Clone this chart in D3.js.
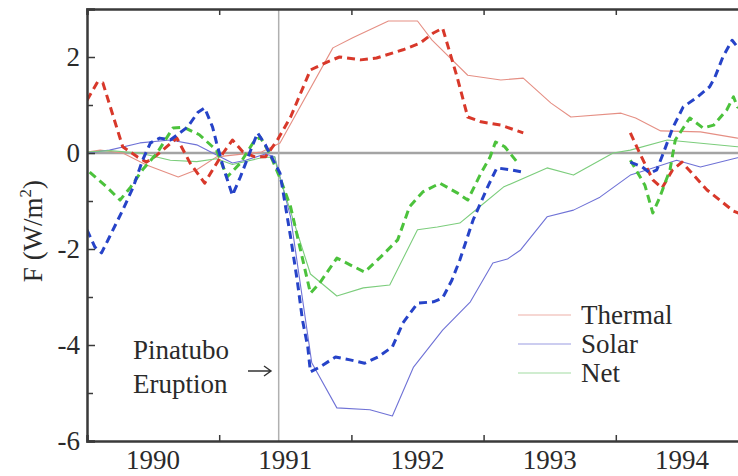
<!DOCTYPE html>
<html><head><meta charset="utf-8">
<script src="https://cdn.jsdelivr.net/npm/d3@7"></script>
</head><body style="margin:0">
<svg id="s" width="738" height="476"></svg>
<script>
// Radiative forcing F (W/m^2) around the Pinatubo eruption.
// Model curves (thin solid) and observed anomalies (thick dashed).
const thermalModel = [
  [1990.00, 0.02], [1990.10, 0.06], [1990.27, 0.00], [1990.45, -0.25], [1990.69, -0.50],
  [1990.83, -0.35], [1990.98, -0.08], [1991.32, 0.02], [1991.46, 0.21], [1991.86, 2.19],
  [1992.01, 2.40], [1992.28, 2.75], [1992.50, 2.75], [1992.61, 2.35], [1992.88, 1.62],
  [1993.13, 1.52], [1993.30, 1.56], [1993.51, 1.04], [1993.66, 0.75], [1994.04, 0.83],
  [1994.15, 0.73], [1994.34, 0.46], [1994.64, 0.44], [1994.92, 0.31], [1995.00, 0.27]
];
const solarModel = [
  [1990.00, 0.00], [1990.17, 0.06], [1990.40, 0.21], [1990.63, 0.27], [1990.83, 0.17],
  [1990.98, -0.04], [1991.10, -0.21], [1991.20, -0.15], [1991.35, -0.02], [1991.42, -0.08],
  [1991.54, -1.33], [1991.70, -4.37], [1991.89, -5.31], [1992.14, -5.35], [1992.31, -5.48],
  [1992.47, -4.46], [1992.69, -3.69], [1992.90, -3.10], [1993.07, -2.29], [1993.18, -2.21],
  [1993.28, -2.02], [1993.48, -1.33], [1993.68, -1.19], [1993.88, -0.92], [1994.11, -0.46],
  [1994.24, -0.35], [1994.46, -0.15], [1994.64, -0.29], [1994.92, -0.10], [1995.00, -0.08]
];
const netModel = [
  [1990.00, 0.02], [1990.17, 0.05], [1990.40, 0.00], [1990.63, -0.15], [1990.83, -0.18],
  [1990.98, -0.12], [1991.10, -0.24], [1991.32, -0.10], [1991.42, -0.08], [1991.44, -0.35],
  [1991.69, -2.52], [1991.89, -2.98], [1992.09, -2.81], [1992.29, -2.75], [1992.50, -1.60],
  [1992.65, -1.54], [1992.82, -1.46], [1992.97, -1.12], [1993.15, -0.71], [1993.48, -0.31],
  [1993.68, -0.46], [1993.98, 0.00], [1994.11, 0.06], [1994.39, 0.27], [1994.92, 0.13],
  [1995.00, 0.12]
];
const thermalObs = [
  [1990.00, 1.10], [1990.08, 1.48], [1990.12, 1.46], [1990.27, 0.13], [1990.38, -0.08],
  [1990.45, -0.19], [1990.53, -0.04], [1990.68, 0.31], [1990.78, -0.21], [1990.89, -0.63],
  [1990.95, -0.35], [1991.03, 0.00], [1991.10, 0.27], [1991.18, 0.02], [1991.27, -0.08],
  [1991.35, -0.08], [1991.44, 0.27], [1991.54, 0.75], [1991.69, 1.73], [1991.82, 1.90],
  [1991.91, 2.00], [1992.07, 1.94], [1992.19, 1.98], [1992.39, 2.15], [1992.52, 2.29],
  [1992.62, 2.50], [1992.69, 2.60], [1992.80, 1.58], [1992.88, 0.75], [1992.98, 0.65],
  [1993.13, 0.58], [1993.30, 0.42], [1993.70, null],
  [1994.11, 0.42], [1994.18, 0.00], [1994.28, -0.56], [1994.35, -0.73], [1994.43, -0.35],
  [1994.50, -0.19], [1994.69, -0.77], [1994.89, -1.21], [1994.98, -1.31]
];
const solarObs = [
  [1990.00, -1.60], [1990.06, -1.96], [1990.11, -2.08], [1990.17, -1.75], [1990.27, -1.19],
  [1990.35, -0.71], [1990.42, -0.15], [1990.48, 0.21], [1990.55, 0.31], [1990.63, 0.27],
  [1990.76, 0.54], [1990.84, 0.85], [1990.89, 0.94], [1990.95, 0.54], [1990.98, 0.21],
  [1991.03, -0.29], [1991.10, -0.88], [1991.16, -0.50], [1991.23, 0.00], [1991.29, 0.42],
  [1991.35, 0.17], [1991.38, 0.00], [1991.46, -0.42], [1991.54, -1.75], [1991.59, -2.65],
  [1991.63, -3.48], [1991.67, -4.04], [1991.69, -4.56], [1991.76, -4.46], [1991.88, -4.25],
  [1991.99, -4.31], [1992.10, -4.38], [1992.20, -4.25], [1992.31, -4.04], [1992.39, -3.54],
  [1992.50, -3.13], [1992.62, -3.10], [1992.69, -3.02], [1992.76, -2.65], [1992.82, -2.23],
  [1992.92, -1.40], [1993.03, -0.71], [1993.10, -0.31], [1993.20, -0.35], [1993.30, -0.40],
  [1993.70, null],
  [1994.11, -0.19], [1994.20, -0.29], [1994.26, -0.42], [1994.31, -0.35], [1994.36, 0.00],
  [1994.43, 0.52], [1994.51, 0.96], [1994.61, 1.15], [1994.71, 1.38], [1994.75, 1.58],
  [1994.81, 2.00], [1994.88, 2.35], [1994.92, 2.21], [1994.98, 2.04]
];
const netObs = [
  [1990.02, -0.40], [1990.15, -0.71], [1990.25, -0.98], [1990.33, -0.71], [1990.42, -0.35],
  [1990.53, 0.00], [1990.65, 0.52], [1990.73, 0.54], [1990.85, 0.38], [1990.95, 0.13],
  [1990.98, 0.06], [1991.06, -0.50], [1991.16, -0.21], [1991.26, 0.23], [1991.31, 0.33],
  [1991.38, 0.00], [1991.46, -0.52], [1991.54, -1.12], [1991.61, -1.96], [1991.69, -2.92],
  [1991.76, -2.71], [1991.89, -2.19], [1991.99, -2.33], [1992.10, -2.48], [1992.22, -2.17],
  [1992.35, -1.81], [1992.44, -1.12], [1992.54, -0.81], [1992.67, -0.63], [1992.80, -0.83],
  [1992.88, -0.98], [1992.98, -0.42], [1993.05, -0.08], [1993.09, 0.23], [1993.16, 0.13],
  [1993.26, -0.21], [1993.70, null],
  [1994.11, -0.15], [1994.22, -0.67], [1994.28, -1.25], [1994.33, -0.94], [1994.41, -0.35],
  [1994.45, 0.27], [1994.56, 0.73], [1994.66, 0.52], [1994.74, 0.58], [1994.84, 0.90],
  [1994.89, 1.17], [1994.92, 0.96], [1994.98, 0.90]
];

const yearLabels = [1990, 1991, 1992, 1993, 1994];
const yearBounds = [1990, 1991, 1992, 1993, 1994, 1995];
const yMajorTicks = [-6, -4, -2, 0, 2];
const yMinorTicks = [-5, -3, -1, 1];
const eruptionYear = 1991.45;
const legendNames = ["Thermal", "Solar", "Net"];

const fam = "Liberation Serif";
const fontSize = 27;
const textColor = "#2a2a2a";
const axisColor = "#3a3a3a";

const svg = d3.select("#s");
svg.append("rect").attr("width", 738).attr("height", 476).attr("fill", "#fff");

const x = d3.scaleLinear().domain([1990, 1995]).range([87, 748]);
const y = d3.scaleLinear().domain([-6, 3]).range([441, 9]);

const colors = {
  thermalThin: "#e58f84", solarThin: "#6f72d6", netThin: "#7ccd7c",
  thermal: "#d8382a", solar: "#2643c8", net: "#4cc23c"
};

svg.append("defs").append("clipPath").attr("id", "plot")
  .append("rect").attr("x", 87).attr("y", 9).attr("width", 661).attr("height", 432);

// reference lines: zero level and eruption date
svg.append("line")
  .attr("x1", x(1990)).attr("x2", x(1995)).attr("y1", y(0)).attr("y2", y(0))
  .attr("stroke", "#a4a4a4").attr("stroke-width", 2.5);
svg.append("line")
  .attr("x1", x(eruptionYear)).attr("x2", x(eruptionYear)).attr("y1", y(3)).attr("y2", y(-6))
  .attr("stroke", "#b0b0b0").attr("stroke-width", 1.5);

const lineGen = d3.line()
  .defined(d => d[1] !== null)
  .x(d => x(d[0])).y(d => y(d[1]));

const plot = svg.append("g").attr("clip-path", "url(#plot)");

const series = [
  { data: thermalModel, color: colors.thermalThin, width: 1.1, dash: null },
  { data: solarModel, color: colors.solarThin, width: 1.1, dash: null },
  { data: netModel, color: colors.netThin, width: 1.1, dash: null },
  { data: thermalObs, color: colors.thermal, width: 3, dash: "8,5" },
  { data: netObs, color: colors.net, width: 3, dash: "8,5" },
  { data: solarObs, color: colors.solar, width: 3, dash: "8,5" }
];

series.forEach(s => {
  plot.append("path")
    .datum(s.data)
    .attr("d", lineGen)
    .attr("fill", "none")
    .attr("stroke", s.color)
    .attr("stroke-width", s.width)
    .attr("stroke-dasharray", s.dash)
    .attr("stroke-linejoin", "round");
});

// axes with inward ticks
const axisBottomG = svg.append("g").attr("transform", `translate(0,${y(-6)})`)
  .call(d3.axisBottom(x).tickValues(yearBounds).tickSize(-6).tickFormat(""));
const axisTopG = svg.append("g").attr("transform", `translate(0,${y(3)})`)
  .call(d3.axisTop(x).tickValues(yearBounds).tickSize(-6).tickFormat(""));
const axisLeftMinor = svg.append("g").attr("transform", `translate(${x(1990)},0)`)
  .call(d3.axisLeft(y).tickValues(yMinorTicks).tickSize(-6).tickFormat(""));
const axisLeftG = svg.append("g").attr("transform", `translate(${x(1990)},0)`)
  .call(d3.axisLeft(y).tickValues(yMajorTicks).tickSize(-8).tickFormat(""));
axisLeftMinor.select(".domain").remove();

[axisBottomG, axisTopG, axisLeftG, axisLeftMinor].forEach(g => {
  g.selectAll(".domain").attr("stroke", axisColor).attr("stroke-width", 2.5);
  g.selectAll(".tick line").attr("stroke", axisColor).attr("stroke-width", 1.5);
});

const label = (xp, yp, str, anchor) => svg.append("text")
  .attr("x", xp).attr("y", yp)
  .attr("font-size", fontSize)
  .attr("text-anchor", anchor || "start")
  .attr("fill", textColor)
  .style("font-family", `"${fam}"`)
  .text(str);

// tick labels: years centred in each year, values beside the left axis
yearLabels.forEach(yr => label(x(yr + 0.5), 469, String(yr), "middle"));
yMajorTicks.forEach(v => label(80, y(v) + 9, String(v), "end"));

// y axis title
const yTitle = svg.append("text")
  .attr("transform", "translate(42,231) rotate(-90)")
  .attr("text-anchor", "middle")
  .attr("font-size", fontSize)
  .attr("fill", textColor)
  .style("font-family", `"${fam}"`);
yTitle.append("tspan").text("F (W/m");
yTitle.append("tspan").attr("font-size", 17).attr("dy", -11).text("2");
yTitle.append("tspan").attr("dy", 11).text(")");

// eruption annotation with arrow pointing at the eruption line
label(133, 359, "Pinatubo");
label(133, 393, "Eruption");
svg.append("path")
  .attr("d", "M248,371 H271 M264,366 L271,371 L264,376")
  .attr("fill", "none").attr("stroke", "#333").attr("stroke-width", 1.4);

// legend
const legendColors = [colors.thermalThin, colors.solarThin, colors.netThin];
svg.append("rect").attr("x", 510).attr("y", 293).attr("width", 180).attr("height", 100).attr("fill", "#fff");
legendNames.forEach((name, i) => {
  const ly = 315 + i * 29;
  svg.append("line")
    .attr("x1", 518).attr("x2", 571).attr("y1", ly).attr("y2", ly)
    .attr("stroke", legendColors[i]).attr("stroke-width", 1.1).attr("stroke-opacity", 0.7);
  label(581, ly + 9, name);
});
</script></body></html>
